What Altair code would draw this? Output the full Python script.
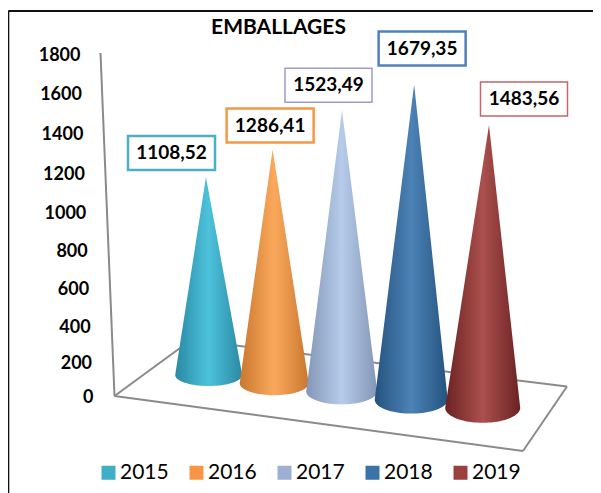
import altair as alt
import numpy as np
import pandas as pd

# --- chart values -------------------------------------------------------
years = ["2015", "2016", "2017", "2018", "2019"]
values = [1108.52, 1286.41, 1523.49, 1679.35, 1483.56]
value_labels = ["1108,52", "1286,41", "1523,49", "1679,35", "1483,56"]
axis_ticks = [0, 200, 400, 600, 800, 1000, 1200, 1400, 1600, 1800]
legend_colors = ["#3FAEC6", "#F79646", "#9DB0D3", "#3B72A8", "#9C3F3F"]
cone_edges = ["#2A89A3", "#C9772F", "#8496B5", "#25537F", "#6B2222"]
cone_mids = ["#4DC2DB", "#FAA95C", "#B6CCEA", "#4C82B6", "#AB504E"]
box_colors = ["#4BAFC6", "#F79646", "#9C9CD0", "#4F81BD", "#C8646A"]
box_widths = [2.5, 2.5, 1.5, 2.5, 1.5]
FONT = "Lato"

# --- oblique projection of the 3-D scene into chart units ---------------
def base_x(i): return 208.7 + 64.5 * i + i * i
def apex_x(i): return 206 + 65.25 * i + 1.375 * i * i
def base_y(i): return 375 + 8.2 * i
def half_w(i): return 33.5 + i
def half_h(i): return 11 + i
def apex_y(i, v): return base_y(i) - v * (0.1786 + 0.003 * i)

X_SCALE = alt.Scale(domain=[100, 593], range=[0, 493], nice=False, zero=False)
Y_SCALE = alt.Scale(domain=[397, 55], range=[342, 0], nice=False, zero=False)
X = lambda f="x": alt.X(f"{f}:Q", scale=X_SCALE, axis=None)
Y = lambda f="y": alt.Y(f"{f}:Q", scale=Y_SCALE, axis=None)

# --- cones ---------------------------------------------------------------
def cone_table(i, v):
    cx, sy, w, h = base_x(i), base_y(i), half_w(i), half_h(i)
    ax, ay = apex_x(i), apex_y(i, v)
    xs = np.sort(np.append(cx - w * np.cos(np.linspace(0, np.pi, 41)), ax))
    low = sy + h * np.sqrt(np.clip(1 - ((xs - cx) / w) ** 2, 0, 1))
    top = np.where(xs <= ax,
                   sy + (ay - sy) * (xs - (cx - w)) / (ax - (cx - w)),
                   sy + (ay - sy) * ((cx + w) - xs) / ((cx + w) - ax))
    return pd.DataFrame({"x": xs, "y": top, "y2": low})

cones = []
for i, v in enumerate(values):
    grad = alt.LinearGradient(
        gradient="linear", x1=0, x2=1, y1=0, y2=0,
        stops=[alt.GradientStop(color=cone_edges[i], offset=0),
               alt.GradientStop(color=cone_mids[i], offset=0.5),
               alt.GradientStop(color=cone_edges[i], offset=1)])
    cones.append(alt.Chart(cone_table(i, v)).mark_area(color=grad).encode(
        x=X(), y=Y(), y2=alt.Y2("y2:Q")))

# --- frame, wall and floor ----------------------------------------------
def segments(pts):
    return pd.DataFrame([
        {"x": a[0], "y": a[1], "x2": b[0], "y2": b[1]} for a, b in pts])

wall_floor = segments([
    ((100.5, 53), (114.5, 396)),
    ((114.5, 396), (191, 340)),
    ((191, 340), (567, 386.5)),
    ((114.5, 396), (523, 451)),
    ((523, 451), (567, 386.5)),
])
frame = segments([((8.3, 11), (601, 11)), ((8.3, 11), (8.3, 493))])

def rules(df, color, width):
    return alt.Chart(df).mark_rule(color=color, strokeWidth=width).encode(
        x=X(), x2=alt.X2("x2:Q"), y=Y(), y2=alt.Y2("y2:Q"))

# --- value boxes --------------------------------------------------------
box_dx = [-34.5, -2.5, -13.5, 8, 35]
box_dy = [-24, -24, -25, -36, -26]
BOX_W, BOX_H = 87, 34
boxes = pd.DataFrame({
    "cx": [apex_x(i) + box_dx[i] for i in range(5)],
    "cy": [apex_y(i, values[i]) + box_dy[i] for i in range(5)],
    "label": value_labels,
    "stroke": box_colors,
    "sw": box_widths,
})
boxes["x"] = boxes.cx - BOX_W / 2
boxes["x2"] = boxes.cx + BOX_W / 2
boxes["y"] = boxes.cy - BOX_H / 2
boxes["y2"] = boxes.cy + BOX_H / 2
box_layer = alt.Chart(boxes).mark_rect(fill="white").encode(
    x=X(), x2=alt.X2("x2:Q"), y=Y(), y2=alt.Y2("y2:Q"),
    stroke=alt.Stroke("stroke:N", scale=None),
    strokeWidth=alt.StrokeWidth("sw:Q", scale=None))
box_text = alt.Chart(boxes).mark_text(
    font=FONT, fontWeight="bold", fontSize=19, color="#000000").encode(
    x=X("cx"), y=Y("cy"), text="label:N")

# --- value axis and legend (perspective-compressed scale) ---------------
axis_df = pd.DataFrame({"tick": axis_ticks})
axis_layer = alt.Chart(axis_df).mark_point(opacity=0).encode(
    y=alt.Y("tick:Q",
            scale=alt.Scale(type="pow", exponent=1.055, domain=[0, 1800],
                            range=[342, 0], nice=False),
            axis=alt.Axis(values=axis_ticks, title=None, domain=False, ticks=False,
                          grid=False, format="d", labelFont=FONT, labelFontWeight="bold",
                          labelFontSize=18, labelColor="#000000",
                          labelPadding=alt.expr("7 + datum.value * 13 / 1800"))))

legend_layer = alt.Chart(pd.DataFrame({"year": years})).mark_square(opacity=0).encode(
    color=alt.Color("year:N",
                    scale=alt.Scale(domain=years, range=legend_colors),
                    legend=alt.Legend(orient="none", legendX=-2, legendY=407,
                                      direction="horizontal", columns=5, title=None,
                                      symbolType="square", symbolSize=196,
                                      symbolOpacity=1, symbolStrokeWidth=0,
                                      labelFont=FONT, labelFontSize=21,
                                      labelColor="#000000", labelOffset=1,
                                      columnPadding=17, padding=0)))

chart = alt.layer(
    rules(frame, "#111111", 2),
    rules(wall_floor, "#8C8A88", 2),
    *cones,
    box_layer,
    box_text,
    axis_layer,
    legend_layer,
).resolve_scale(y="independent").properties(
    width=493,
    height=342,
    padding={"left": 92, "top": 47, "right": 0, "bottom": 96},
    autosize=alt.AutoSizeParams(type="none"),
    title=alt.TitleParams("EMBALLAGES", font=FONT, fontWeight="bold", fontSize=21,
                          color="#000000", anchor="middle", dx=-68, offset=-28),
    background="white",
).configure_view(stroke=None)

chart.save("out.html", embed_options={"renderer": "svg", "actions": False})
